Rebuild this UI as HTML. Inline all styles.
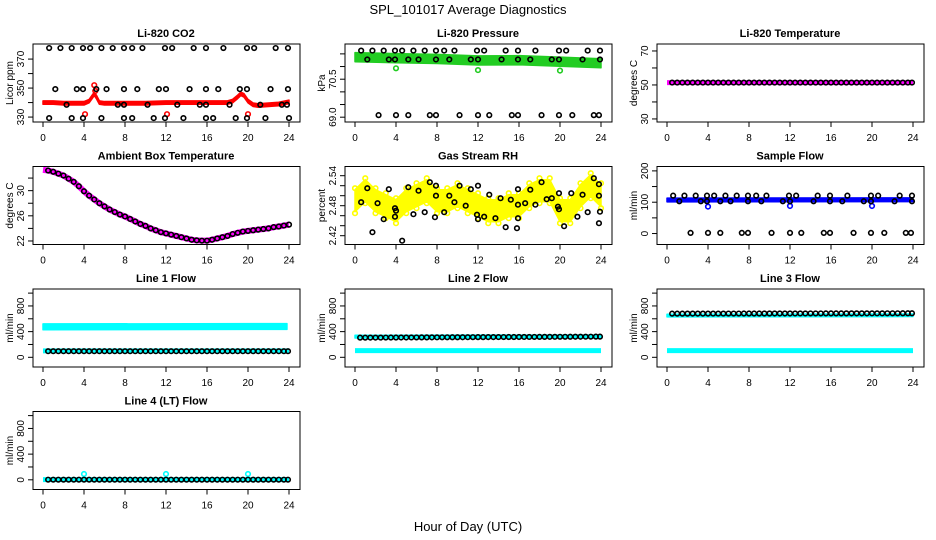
<!DOCTYPE html>
<html><head><meta charset="utf-8"><style>
body{margin:0;background:#fff}
svg{display:block;font-family:"Liberation Sans",sans-serif}
</style></head><body>
<svg id="s" width="936" height="540" viewBox="0 0 936 540">
<text x="468" y="14" text-anchor="middle" font-size="13">SPL_101017  Average Diagnostics</text>
<text x="468" y="531" text-anchor="middle" font-size="13">Hour of Day (UTC)</text>
</svg>
<script>
// ---------- DATA ----------
const xTicks=[0,4,8,12,16,20,24];
const grpTop=[0.6,1.7,2.8,3.9,4.6,5.7,6.8,7.9,8.7,9.7,11.9,12.6,14.7,15.9,17.6,19.9,20.6,22.7,23.9];
const grpMid=[1.2,3.3,3.9,5.2,6.2,7.9,9.2,11.3,12.0,14.3,15.9,17.1,19.2,19.9,22.2,23.9];
const grpLow=[2.3,4.0,5.2,7.3,7.9,10.2,12.0,13.1,15.3,15.9,18.2,19.9,21.2,23.3,23.8];
const halfHours=[0.5,1,1.5,2,2.5,3,3.5,4,4.5,5,5.5,6,6.5,7,7.5,8,8.5,9,9.5,10,10.5,11,11.5,12,12.5,13,13.5,14,14.5,15,15.5,16,16.5,17,17.5,18,18.5,19,19.5,20,20.5,21,21.5,22,22.5,23,23.5,23.9];
// CO2
const co2BandH=[0,1,2,3,4,4.5,4.8,5,5.2,5.5,6,8,10,12,14,16,17,18,18.5,19,19.3,19.6,20,20.5,21,22,23,24];
const co2BandV=[340,340,339.5,339.5,339.5,341,344,346,344,340,339.5,339.5,339.5,340,340,340,340,340,341,344,346,345,341,338.5,338,338.5,339,340.5];
const co2TopV=377.6, co2MidV=349.3, co2LowV=329.3;
const co2Grp3H=[2.3,7.3,7.9,10.2,13.1,15.3,15.9,18.2,21.2,23.3,23.8];
const co2Grp3V=338.5;
const co2LowH=[0.6,2.8,3.9,5.7,7.9,8.7,10.8,11.9,13.7,15.9,16.6,18.8,19.9,21.7,24.0];
const co2RedH=[4.1,5.0,5.1,12.1,20.0];
const co2RedV=[332,352,348,332,332];
// Pressure
const presBandH=[0,4,8,12,16,20,24];
const presBandV=[71.37,71.33,71.3,71.24,71.25,71.19,71.13];
const presTopV=71.63, presMidV=71.28, presLowV=69.08;
const presGreenH=[4.0,12.0,20.0];
const presGreenV=[70.93,70.86,70.84];
// Li-820 temperature
const tempLineH=[0,24];
const tempLineV=[51.4,51.4];
const tempPtV=51.4;
// Ambient box temperature (every 0.5 h)
const ambH=[0,0.5,1,1.5,2,2.5,3,3.5,4,4.5,5,5.5,6,6.5,7,7.5,8,8.5,9,9.5,10,10.5,11,11.5,12,12.5,13,13.5,14,14.5,15,15.5,16,16.5,17,17.5,18,18.5,19,19.5,20,20.5,21,21.5,22,22.5,23,23.5,24];
const ambV=[33.3,33.2,33.0,32.7,32.4,31.9,31.4,30.7,29.9,29.2,28.6,28.0,27.5,27.0,26.6,26.2,25.9,25.5,25.1,24.7,24.4,24.0,23.7,23.4,23.2,23.0,22.8,22.6,22.4,22.2,22.1,22.05,22.05,22.2,22.4,22.6,22.8,23.1,23.3,23.5,23.6,23.7,23.8,23.9,24.0,24.2,24.3,24.45,24.6];
// RH
const rhBandH=[0,1,2,3,4,5,6,7,8,9,10,11,12,13,14,15,16,17,18,19,20,21,22,23,24];
const rhBandV=[2.49,2.51,2.49,2.48,2.47,2.49,2.50,2.51,2.49,2.49,2.50,2.49,2.48,2.47,2.47,2.48,2.48,2.50,2.51,2.51,2.47,2.47,2.50,2.52,2.50];
const rhBlackH=[0.6,1.2,1.7,2.2,2.8,3.3,3.9,3.9,4.0,4.6,5.2,5.7,6.2,6.8,7.3,7.9,7.9,7.8,8.7,9.2,9.7,10.2,10.8,11.3,11.9,12.0,12.0,12.6,13.1,13.7,14.2,14.7,15.2,15.9,15.9,15.9,15.8,16.6,17.1,17.6,18.2,18.7,19.2,19.8,19.9,19.9,20.4,21.1,21.7,22.2,22.7,23.3,23.8,23.8,23.9,23.8];
const rhBlackV=[2.487,2.515,2.427,2.485,2.453,2.513,2.475,2.458,2.47,2.41,2.517,2.463,2.51,2.467,2.527,2.52,2.5,2.457,2.467,2.5,2.487,2.52,2.48,2.513,2.462,2.52,2.453,2.458,2.502,2.455,2.495,2.437,2.492,2.513,2.482,2.455,2.435,2.485,2.512,2.482,2.527,2.493,2.495,2.478,2.505,2.473,2.439,2.505,2.458,2.502,2.467,2.535,2.523,2.5,2.468,2.445];
// Sample flow
const sfBandH=[0,24];
const sfBandV=[107,108];
const sfTopV=121, sfMidV=103, sfLowV=2;
const sfBlueH=[4.0,12.0,20.0];
const sfBlueV=[86,88,88];
// Line flows
const l1BandH=[0,23.8]; const l1BandV=[475,480];
const l1LowH=[0,24]; const l1LowV=[100,100];
const l1PtV=95;
const l2BandH=[0,24]; const l2BandV=[322,326];
const l2LowH=[0,24]; const l2LowV=[104,104];
const l2PtH=[0.5,24]; const l2PtV=[306,322];
const l3BandH=[0,24]; const l3BandV=[650,655];
const l3LowH=[0,24]; const l3LowV=[104,104];
const l3PtH=[0.5,24]; const l3PtV=[680,686];
const l4LineH=[0,24]; const l4LineV=[2,2];
const l4PtV=2;
const l4CyanH=[4.0,12.0,20.0];
const l4CyanV=[90,90,90];

// ---------- DRAWING ----------
const S=document.getElementById('s');
const NS='http://www.w3.org/2000/svg';
function mk(tag,at,parent){const e=document.createElementNS(NS,tag);for(const k in at)e.setAttribute(k,at[k]);(parent||S).appendChild(e);return e;}
const rowTop=[44,166.5,289,411.5];
const colL=[0,312,624];
function panel(col,row,title,ylab,ymin,ymax,ticks,labels,name){
  const c=colL[col], t=rowTop[row], b=t+78;
  const g=mk('g',{});
  
  
  const P={c,t,b,ymin,ymax,g,
    x:h=>c+43+h*10.25,
    y:v=>b-(v-ymin)/(ymax-ymin)*78};
  const bx=mk('rect',{x:c+33,y:t,width:267,height:78,fill:'none',stroke:'#000','stroke-width':1},g);
  
  
  const tt=mk('text',{x:c+166,y:t-7,'text-anchor':'middle','font-size':11,'font-weight':'bold'},g);
  tt.textContent=title;
  
  
  const yl=mk('text',{transform:`translate(${c+13},${t+39}) rotate(-90)`,'text-anchor':'middle','font-size':10},g);
  yl.textContent=ylab;
  
  
  xTicks.forEach(h=>{
    const X=P.x(h);
    mk('line',{x1:X,x2:X,y1:b,y2:b+5,stroke:'#000'},g);
    const tx=mk('text',{x:X,y:b+19,'text-anchor':'middle','font-size':10},g);
    tx.textContent=h;
    
    
  });
  ticks.forEach(v=>{
    const Y=P.y(v);
    mk('line',{x1:c+28,x2:c+33,y1:Y,y2:Y,stroke:'#000'},g);
  });
  labels.forEach(v=>{
    const Y=P.y(v);
    const tx=mk('text',{transform:`translate(${c+24},${Y}) rotate(-90)`,'text-anchor':'middle','font-size':10},g);
    tx.textContent=v;
    
    
  });
  return P;
}
function band(P,H,V,half,color,name){
  const d=H.map((h,i)=>`${i?'L':'M'}${P.x(h)},${P.y(V[i]+half)}`).join('')+
    H.slice().reverse().map((h,j)=>{const i=H.length-1-j;return `L${P.x(h)},${P.y(V[i]-half)}`;}).join('')+'Z';
  const p=mk('path',{d,fill:color,stroke:color,'stroke-width':1.5,'stroke-linejoin':'round'},P.g);
  
  
}
function line(P,H,V,color,w,name){
  const p=mk('polyline',{points:H.map((h,i)=>P.x(h)+','+P.y(V[i])).join(' '),fill:'none',stroke:color,'stroke-width':w,'stroke-linejoin':'round'},P.g);
  
  
}
function pts(P,H,V,color,name){
  H.forEach((h,i)=>{
    const v=Array.isArray(V)?V[i]:V;
    const e=mk('circle',{cx:P.x(h),cy:P.y(v),r:2.3,fill:'none',stroke:color,'stroke-width':1.6},P.g);
    
    
  });
}
function lerp2(H,V){return h=>V[0]+(V[1]-V[0])*(h-H[0])/(H[1]-H[0]);}

// CO2
let P=panel(0,0,'Li-820 CO2','Licor ppm',326.6,380.4,[330,340,350,360,370],[330,350,370],'co2');
band(P,co2BandH,co2BandV,1.2,'#ff0000','co2-band');
pts(P,co2RedH,co2RedV,'#ff0000','co2-red-point');
pts(P,grpTop,co2TopV,'#000','co2-point');
pts(P,grpMid,co2MidV,'#000','co2-point');
pts(P,co2Grp3H,co2Grp3V,'#000','co2-point');
pts(P,co2LowH,co2LowV,'#000','co2-point');
// Pressure
P=panel(1,0,'Li-820 Pressure','kPa',68.81,71.89,[69,69.5,70,70.5,71,71.5],['69.0','70.5'],'pressure');
band(P,presBandH,presBandV,0.18,'#22cc22','pressure-band');
pts(P,presGreenH,presGreenV,'#22cc22','pressure-green-point');
pts(P,grpTop,presTopV,'#000','pressure-point');
pts(P,grpMid,presMidV,'#000','pressure-point');
pts(P,grpLow,presLowV,'#000','pressure-point');
// Temperature
P=panel(2,0,'Li-820 Temperature','degrees C',28.2,74.1,[30,40,50,60,70],[30,50,70],'li820-temperature');
line(P,tempLineH,tempLineV,'#ff00ff',5,'temperature-line');
pts(P,halfHours,tempPtV,'#000','temperature-point');
// Ambient
P=panel(0,1,'Ambient Box Temperature','degrees C',21.44,33.84,[22,24,26,28,30,32],[22,26,30],'ambient-temperature');
line(P,ambH,ambV,'#ff00ff',6,'ambient-line');
pts(P,ambH.slice(1),ambV.slice(1),'#000','ambient-point');
// RH
P=panel(1,1,'Gas Stream RH','percent',2.4024,2.5584,[2.42,2.44,2.46,2.48,2.50,2.52,2.54],['2.42','2.48','2.54'],'rh');
band(P,rhBandH,rhBandV,0.022,'#ffff00','rh-band');
pts(P,rhBandH,rhBandV.map(v=>v+0.025),'#ffff00','rh-yellow-point');
pts(P,rhBandH,rhBandV.map(v=>v-0.025),'#ffff00','rh-yellow-point');
pts(P,rhBlackH,rhBlackV,'#000','rh-point');
// Sample flow
P=panel(2,1,'Sample Flow','ml/min',-35,214,[0,50,100,150,200],[0,100,200],'sample-flow');
band(P,sfBandH,sfBandV,6,'#0000ff','sample-flow-band');
pts(P,sfBlueH,sfBlueV,'#0000ff','sample-flow-blue-point');
pts(P,grpTop,sfTopV,'#000','sample-flow-point');
pts(P,grpMid,sfMidV,'#000','sample-flow-point');
pts(P,grpLow,sfLowV,'#000','sample-flow-point');
// Line 1
const fT=[0,200,400,600,800,1000], fL=[0,400,800];
P=panel(0,2,'Line 1 Flow','ml/min',-151,1064,fT,fL,'line1-flow');
band(P,l1BandH,l1BandV,45,'#00ffff','line1-band');
line(P,l1LowH,l1LowV,'#00ffff',5,'line1-low-line');
pts(P,halfHours,l1PtV,'#000','line1-point');
// Line 2
P=panel(1,2,'Line 2 Flow','ml/min',-151,1064,fT,fL,'line2-flow');
band(P,l2BandH,l2BandV,22,'#00ffff','line2-band');
line(P,l2LowH,l2LowV,'#00ffff',5,'line2-low-line');
pts(P,halfHours,halfHours.map(lerp2(l2PtH,l2PtV)),'#000','line2-point');
// Line 3
P=panel(2,2,'Line 3 Flow','ml/min',-151,1064,fT,fL,'line3-flow');
band(P,l3BandH,l3BandV,20,'#00ffff','line3-band');
line(P,l3LowH,l3LowV,'#00ffff',5,'line3-low-line');
pts(P,halfHours,halfHours.map(lerp2(l3PtH,l3PtV)),'#000','line3-point');
// Line 4
P=panel(0,3,'Line 4 (LT) Flow','ml/min',-151,1064,fT,fL,'line4-flow');
line(P,l4LineH,l4LineV,'#00ffff',5,'line4-line');
pts(P,l4CyanH,l4CyanV,'#00ffff','line4-cyan-point');
pts(P,halfHours,l4PtV,'#000','line4-point');
</script>
</body></html>
